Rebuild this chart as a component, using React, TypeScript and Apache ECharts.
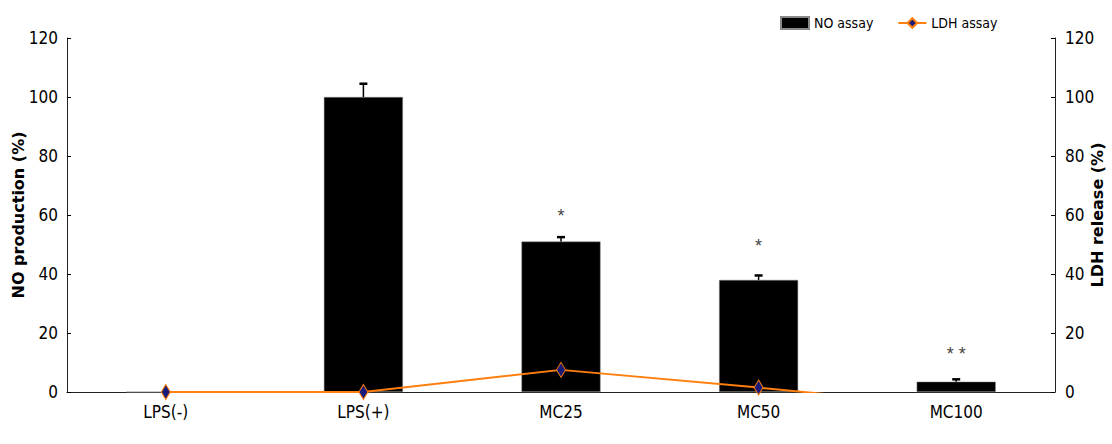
import React, { useEffect, useRef } from "react";
import * as echarts from "echarts";

const categories = ["LPS(-)", "LPS(+)", "MC25", "MC50", "MC100"];
const noAssay = [0, 100, 51, 38, 3.5];
const noErrorTop = [0, 104.5, 52.5, 39.5, 4.3];
const ldhAssay = [0, 0, 7.5, 1.5, -5];
const starLabels = ["", "", "*", "*", "* *"];
const starValues = [0, 0, 59.5, 49.5, 13];
const yTicks = { min: 0, max: 120, interval: 20 };

const narrow = "'DejaVu Sans Condensed', 'Liberation Sans Narrow', 'Liberation Sans', Arial, sans-serif";

export default function App() {
  const ref = useRef<HTMLDivElement>(null);
  useEffect(() => {
    if (!ref.current) return;
    const chart = echarts.init(ref.current, undefined, { renderer: "svg" });
    const errData = categories.map((_, i) => [i, noAssay[i], noErrorTop[i]]);
    const starData = categories.map((_, i) => [i, starValues[i], starLabels[i]]);
    chart.setOption({
      animation: false,
      backgroundColor: "#ffffff",
      legend: {
        top: 11,
        left: 775,
        itemWidth: 28,
        itemHeight: 12,
        itemGap: 24,
        textStyle: { fontFamily: narrow, fontSize: 14, color: "#000" },
        data: [
          { name: "NO assay", icon: "rect" },
          { name: "LDH assay" },
        ],
      },
      grid: { left: 67, right: 57, top: 38, bottom: 52, containLabel: false, outerBoundsMode: "none" },
      xAxis: {
        type: "category",
        data: categories,
        axisLine: { lineStyle: { color: "#222", width: 1 } },
        axisTick: { inside: true, length: 5, lineStyle: { color: "#000" } },
        axisLabel: { fontFamily: narrow, fontSize: 17, color: "#000", margin: 11 },
      },
      yAxis: [
        {
          type: "value",
          ...yTicks,
          name: "NO production (%)",
          nameLocation: "middle",
          nameGap: 41,
          nameRotate: 90,
          nameMoveOverlap: false,
          nameTextStyle: { fontFamily: "'DejaVu Sans', sans-serif", fontWeight: "bold", fontSize: 16, color: "#000" },
          axisLine: { show: true, lineStyle: { color: "#222", width: 1 } },
          axisTick: { show: true, inside: true, length: 4, lineStyle: { color: "#000" } },
          axisLabel: { fontFamily: narrow, fontSize: 17, color: "#000", margin: 9 },
          splitLine: { show: false },
        },
        {
          type: "value",
          ...yTicks,
          name: "LDH release (%)",
          nameLocation: "middle",
          nameGap: 34,
          nameRotate: 90,
          nameMoveOverlap: false,
          nameTextStyle: { fontFamily: "'DejaVu Sans', sans-serif", fontWeight: "bold", fontSize: 16, color: "#000" },
          axisLine: { show: true, lineStyle: { color: "#222", width: 1 } },
          axisTick: { show: true, inside: true, length: 4, lineStyle: { color: "#000" } },
          axisLabel: { fontFamily: narrow, fontSize: 17, color: "#000", margin: 10 },
          splitLine: { show: false },
        },
      ],
      series: [
        {
          name: "NO assay",
          type: "bar",
          data: noAssay,
          barWidth: "40%",
          itemStyle: { color: "#000", borderColor: "#888", borderWidth: 0.5 },
          z: 2,
        },
        {
          name: "errors",
          type: "custom",
          data: errData,
          z: 3,
          renderItem: (params: any, api: any) => {
            const i = api.value(0);
            const v = api.value(1);
            const t = api.value(2);
            if (t <= v) return null;
            const p0 = api.coord([i, v]);
            const p1 = api.coord([i, t]);
            const style = { stroke: "#000", lineWidth: 1.5 };
            return {
              type: "group",
              children: [
                { type: "line", shape: { x1: p0[0], y1: p0[1], x2: p1[0], y2: p1[1] }, style },
                { type: "line", shape: { x1: p1[0] - 4, y1: p1[1], x2: p1[0] + 4, y2: p1[1] }, style: { stroke: "#000", lineWidth: 2.5 } },
              ],
            };
          },
        },
        {
          name: "stars",
          type: "custom",
          data: starData,
          z: 3,
          renderItem: (params: any, api: any) => {
            const i = api.value(0);
            const label = starLabels[params.dataIndex];
            if (!label) return null;
            const p = api.coord([i, api.value(1)]);
            return {
              type: "text",
              x: p[0],
              y: p[1],
              style: {
                text: label,
                fontSize: 18,
                fontFamily: "Arial, sans-serif",
                fill: "#444",
                align: "center",
                verticalAlign: "middle",
              },
            };
          },
        },
        {
          name: "LDH assay",
          type: "line",
          yAxisIndex: 1,
          data: ldhAssay,
          clip: true,
          symbol: "diamond",
          symbolSize: [9, 15],
          showAllSymbol: true,
          lineStyle: { color: "#FF7F0E", width: 2 },
          itemStyle: { color: "#1a1a7a", borderColor: "#FF7F0E", borderWidth: 1 },
          z: 4,
        },
      ],
    });
    return () => chart.dispose();
  }, []);
  return <div ref={ref} style={{ position: "absolute", left: 0, top: 0, width: 1112, height: 444 }} />;
}
